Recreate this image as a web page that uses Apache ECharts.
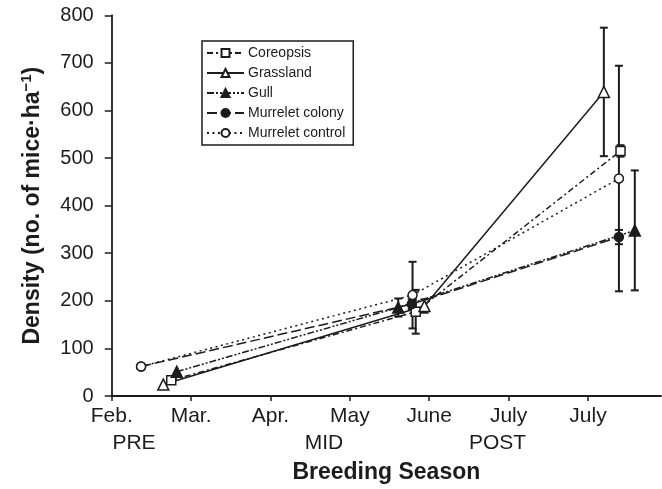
<!DOCTYPE html>
<html>
<head>
<meta charset="utf-8">
<script src="https://cdn.jsdelivr.net/npm/echarts@6/dist/echarts.min.js"></script>
<style>
html,body{margin:0;padding:0;background:#fff;}
#chart{width:662px;height:489px;}
</style>
</head>
<body>
<div id="chart"></div>
<script>
// Month tick labels (x value 0 = Feb.)
const monthLabels = ['Feb.', 'Mar.', 'Apr.', 'May', 'June', 'July', 'July'];
const seasonLabels = ['PRE', 'MID', 'POST'];
const seriesNames = ['Coreopsis', 'Grassland', 'Gull', 'Murrelet colony', 'Murrelet control'];

// x positions in months after Feb., y = density, err = half-length of error bar
const coreopsisX = [0.75, 3.83, 6.41];
const coreopsisY = [33, 177, 515];
const coreopsisErr = [0, 46, 12];

const grasslandX = [0.65, 3.94, 6.20];
const grasslandY = [24, 189, 639];
const grasslandErr = [0, 14, 135];

const gullX = [0.82, 3.61, 6.59];
const gullY = [51, 186, 348];
const gullErr = [0, 19, 126];

const colonyX = [0.37, 3.78, 6.39];
const colonyY = [62, 193, 334];
const colonyErr = [0, 10, 15];

const controlX = [0.37, 3.79, 6.39];
const controlY = [62, 212, 457];
const controlErr = [0, 70, 237];

const yTicks = [0, 100, 200, 300, 400, 500, 600, 700, 800];

const allX = [coreopsisX, grasslandX, gullX, colonyX, controlX];
const allY = [coreopsisY, grasslandY, gullY, colonyY, controlY];
const allErr = [coreopsisErr, grasslandErr, gullErr, colonyErr, controlErr];

const INK = '#1c1c1c';
const FONT = '"Liberation Sans", Arial, sans-serif';

const styles = [
  {symbol: 'rect', size: 9, fill: '#fff', dash: [6, 3, 2, 3]},
  {symbol: 'triangle', size: 11, fill: '#fff', dash: 'solid'},
  {symbol: 'triangle', size: 11, fill: INK, dash: [7, 2, 2, 2, 2, 2]},
  {symbol: 'circle', size: 9, fill: INK, dash: [10, 4]},
  {symbol: 'circle', size: 9, fill: '#fff', dash: [2, 3.5]}
];

function pairs(xs, ys) { return xs.map((x, i) => [x, ys[i]]); }

const lineSeries = seriesNames.map((name, k) => ({
  name: name,
  type: 'line',
  data: pairs(allX[k], allY[k]),
  symbol: styles[k].symbol,
  symbolSize: styles[k].size,
  showSymbol: true,
  z: 3,
  lineStyle: {color: INK, width: 1.5, type: styles[k].dash},
  itemStyle: {color: styles[k].fill, borderColor: INK, borderWidth: 1.5},
  emphasis: {disabled: true}
}));

const errData = [];
for (let k = 0; k < allX.length; k++) {
  for (let i = 0; i < allX[k].length; i++) {
    const e = allErr[k][i];
    if (e > 0) errData.push([allX[k][i], allY[k][i] - e, allY[k][i] + e]);
  }
}

const errSeries = {
  type: 'custom',
  name: 'err',
  z: 1,
  silent: true,
  data: errData,
  encode: {x: 0, y: [1, 2]},
  renderItem: function (params, api) {
    const x = api.value(0);
    const top = api.coord([x, api.value(2)]);
    const bot = api.coord([x, api.value(1)]);
    const w = 4;
    const st = {stroke: INK, lineWidth: 2};
    return {
      type: 'group',
      children: [
        {type: 'line', shape: {x1: top[0], y1: top[1], x2: bot[0], y2: bot[1]}, style: st},
        {type: 'line', shape: {x1: top[0] - w, y1: top[1], x2: top[0] + w, y2: top[1]}, style: st},
        {type: 'line', shape: {x1: bot[0] - w, y1: bot[1], x2: bot[0] + w, y2: bot[1]}, style: st}
      ]
    };
  }
};

const chart = echarts.init(document.getElementById('chart'), null, {renderer: 'canvas'});
chart.setOption({
  animation: false,
  backgroundColor: '#fff',
  grid: {left: 111.7, right: 1, top: 15.3, bottom: 91.7, containLabel: false},
  legend: {
    data: seriesNames,
    orient: 'vertical',
    left: 202,
    top: 41,
    padding: [5, 8, 5, 4],
    itemWidth: 37,
    itemHeight: 10,
    itemGap: 6,
    borderColor: INK,
    borderWidth: 1.5,
    borderRadius: 0,
    selectedMode: false,
    textStyle: {fontFamily: FONT, fontSize: 14, color: INK, lineHeight: 14, padding: [0, 0, 0, -1]}
  },
  xAxis: {
    type: 'value',
    min: 0,
    max: 6.92,
    interval: 1,
    name: 'Breeding Season',
    nameLocation: 'middle',
    nameGap: 65,
    nameTextStyle: {fontFamily: FONT, fontSize: 23, fontWeight: 'bold', color: INK},
    splitLine: {show: false},
    axisLine: {show: true, onZero: false, lineStyle: {color: INK, width: 1.8}},
    axisTick: {show: true, length: 5, lineStyle: {color: INK, width: 1.5},
      customValues: monthLabels.map((m, i) => i)},
    axisLabel: {
      fontFamily: FONT, fontSize: 21, color: INK, margin: 10,
      customValues: monthLabels.map((m, i) => i),
      formatter: function (v) { const i = Math.round(v); return Math.abs(v - i) < 1e-6 ? (monthLabels[i] || '') : ''; }
    }
  },
  yAxis: {
    type: 'value',
    min: 0,
    max: 800,
    interval: 100,
    name: 'Density (no. of mice·ha{sup|−1})',
    nameLocation: 'middle',
    nameGap: 67,
    nameTextStyle: {
      fontFamily: FONT, fontSize: 23, fontWeight: 'bold', color: INK,
      rich: {sup: {fontFamily: FONT, fontSize: 15, fontWeight: 'bold', color: INK, padding: [0, 0, 10, 0]}}
    },
    splitLine: {show: false},
    axisLine: {show: true, lineStyle: {color: INK, width: 1.8}},
    axisTick: {show: true, length: 7, lineStyle: {color: INK, width: 1.5}},
    axisLabel: {fontFamily: FONT, fontSize: 20, color: INK, margin: 18,
      formatter: function (v) { return yTicks.indexOf(v) >= 0 ? String(v) : ''; }}
  },
  graphic: [
    {type: 'text', x: 134, y: 433, style: {text: seasonLabels[0], font: '21px ' + FONT, fill: INK, align: 'center'}},
    {type: 'text', x: 324, y: 433, style: {text: seasonLabels[1], font: '21px ' + FONT, fill: INK, align: 'center'}},
    {type: 'text', x: 497.5, y: 433, style: {text: seasonLabels[2], font: '21px ' + FONT, fill: INK, align: 'center'}}
  ],
  series: [errSeries].concat(lineSeries)
});
</script>
</body>
</html>
